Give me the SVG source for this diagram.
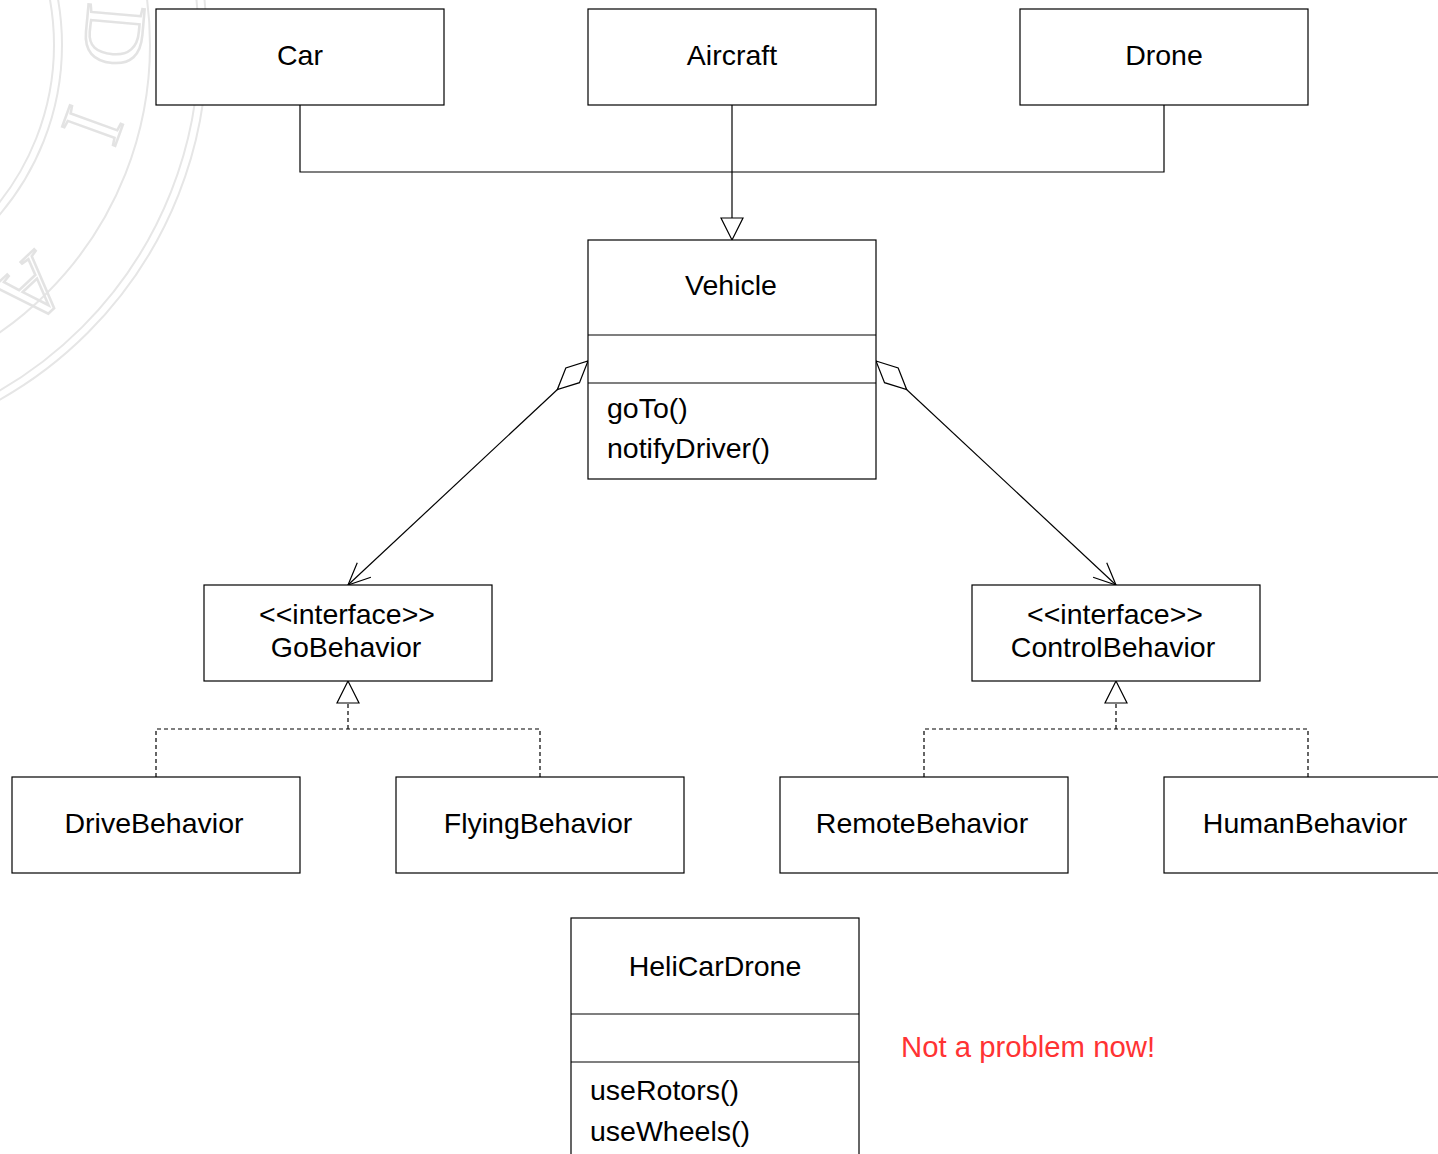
<svg xmlns="http://www.w3.org/2000/svg" width="1438" height="1154" viewBox="0 0 1438 1154">
  <style>
    .box { fill: #ffffff; stroke: #000000; stroke-width: 1.2; }
    .sep { stroke: #000000; stroke-width: 1.2; fill: none; }
    .lbl { font-family: "Liberation Sans", Arial, sans-serif; font-size: 28.5px; fill: #000000; }
    .mid { text-anchor: middle; }
    .edge { fill: none; stroke: #000000; stroke-width: 1.2; }
    .dash { stroke-dasharray: 4 3; }
    .seal { fill: none; stroke: #e6e6e6; stroke-width: 2; }
    .sealtxt { font-family: "Liberation Serif", "Times New Roman", serif; font-size: 86px; fill: none; stroke: #e3e3e3; stroke-width: 2.5; text-anchor: middle; }
    .note { font-family: "Liberation Sans", Arial, sans-serif; font-size: 29.3px; fill: #ff3333; }
  </style>
  <defs>
    <!-- hollow triangle: generalization / realization -->
    <marker id="tri" markerUnits="userSpaceOnUse" orient="auto" overflow="visible" markerWidth="24" markerHeight="24" refX="0" refY="0">
      <path d="M0,0 L-22,-11 L-22,11 Z" fill="#ffffff" stroke="#000000" stroke-width="1.2"/>
    </marker>
    <!-- open arrowhead: navigability -->
    <marker id="open" markerUnits="userSpaceOnUse" orient="auto" overflow="visible" markerWidth="24" markerHeight="24" refX="0" refY="0">
      <path d="M-22,-10 L0,0 L-22,10" fill="none" stroke="#000000" stroke-width="1.2"/>
    </marker>
    <!-- hollow diamond: aggregation -->
    <marker id="dia" markerUnits="userSpaceOnUse" orient="auto" overflow="visible" markerWidth="44" markerHeight="24" refX="0" refY="0">
      <path d="M0,0 L21,-10 L42,0 L21,10 Z" fill="#ffffff" stroke="#000000" stroke-width="1.2"/>
    </marker>
  </defs>

  <rect x="0" y="0" width="1438" height="1154" fill="#ffffff"/>

  <!-- faint seal in the background corner -->
  <g id="seal">
    <circle class="seal" cx="-200" cy="45" r="407"/>
    <circle class="seal" cx="-200" cy="45" r="399"/>
    <circle class="seal" cx="-200" cy="45" r="350"/>
    <circle class="seal" cx="-200" cy="45" r="262"/>
    <circle class="seal" cx="-200" cy="45" r="254"/>
    <text class="sealtxt" transform="translate(86,33) rotate(95)">D</text>
    <text class="sealtxt" transform="translate(66,116) rotate(110)">I</text>
    <text class="sealtxt" transform="translate(12,270) rotate(137)">A</text>
  </g>

  <!-- connectors -->
  <g id="connectors">
    <path class="edge" d="M300,105 L300,172 L1164,172 L1164,105"/>
    <path class="edge" d="M732,105 L732,240" marker-end="url(#tri)"/>
    <path class="edge" d="M588,361 L348,585" marker-start="url(#dia)" marker-end="url(#open)"/>
    <path class="edge" d="M876,361 L1116,585" marker-start="url(#dia)" marker-end="url(#open)"/>
    <path class="edge dash" d="M156,777 L156,729 L540,729 L540,777"/>
    <path class="edge dash" d="M348,729 L348,681" marker-end="url(#tri)"/>
    <path class="edge dash" d="M924,777 L924,729 L1308,729 L1308,777"/>
    <path class="edge dash" d="M1116,729 L1116,681" marker-end="url(#tri)"/>
  </g>

  <g id="car">
    <rect class="box" x="156" y="9" width="288" height="96"/>
    <text class="lbl mid" x="300" y="65">Car</text>
  </g>
  <g id="aircraft">
    <rect class="box" x="588" y="9" width="288" height="96"/>
    <text class="lbl mid" x="732" y="65">Aircraft</text>
  </g>
  <g id="drone">
    <rect class="box" x="1020" y="9" width="288" height="96"/>
    <text class="lbl mid" x="1164" y="65">Drone</text>
  </g>

  <g id="vehicle">
    <rect class="box" x="588" y="240" width="288" height="239"/>
    <line class="sep" x1="588" y1="335" x2="876" y2="335"/>
    <line class="sep" x1="588" y1="383" x2="876" y2="383"/>
    <text class="lbl mid" x="731" y="295">Vehicle</text>
    <text class="lbl" x="607" y="418">goTo()</text>
    <text class="lbl" x="607" y="458">notifyDriver()</text>
  </g>

  <g id="gobehavior">
    <rect class="box" x="204" y="585" width="288" height="96"/>
    <text class="lbl mid" x="347" y="624">&lt;&lt;interface&gt;&gt;</text>
    <text class="lbl mid" x="346" y="657">GoBehavior</text>
  </g>
  <g id="controlbehavior">
    <rect class="box" x="972" y="585" width="288" height="96"/>
    <text class="lbl mid" x="1115" y="624">&lt;&lt;interface&gt;&gt;</text>
    <text class="lbl mid" x="1113" y="657">ControlBehavior</text>
  </g>

  <g id="drivebehavior">
    <rect class="box" x="12" y="777" width="288" height="96"/>
    <text class="lbl mid" x="154" y="833">DriveBehavior</text>
  </g>
  <g id="flyingbehavior">
    <rect class="box" x="396" y="777" width="288" height="96"/>
    <text class="lbl mid" x="538" y="833">FlyingBehavior</text>
  </g>
  <g id="remotebehavior">
    <rect class="box" x="780" y="777" width="288" height="96"/>
    <text class="lbl mid" x="922" y="833">RemoteBehavior</text>
  </g>
  <g id="humanbehavior">
    <rect class="box" x="1164" y="777" width="288" height="96"/>
    <text class="lbl mid" x="1305" y="833">HumanBehavior</text>
  </g>

  <g id="helicardrone">
    <rect class="box" x="571" y="918" width="288" height="240"/>
    <line class="sep" x1="571" y1="1014" x2="859" y2="1014"/>
    <line class="sep" x1="571" y1="1062" x2="859" y2="1062"/>
    <text class="lbl mid" x="715" y="976">HeliCarDrone</text>
    <text class="lbl" x="590" y="1100">useRotors()</text>
    <text class="lbl" x="590" y="1141">useWheels()</text>
  </g>

  <text class="note" x="901" y="1057">Not a problem now!</text>
</svg>
